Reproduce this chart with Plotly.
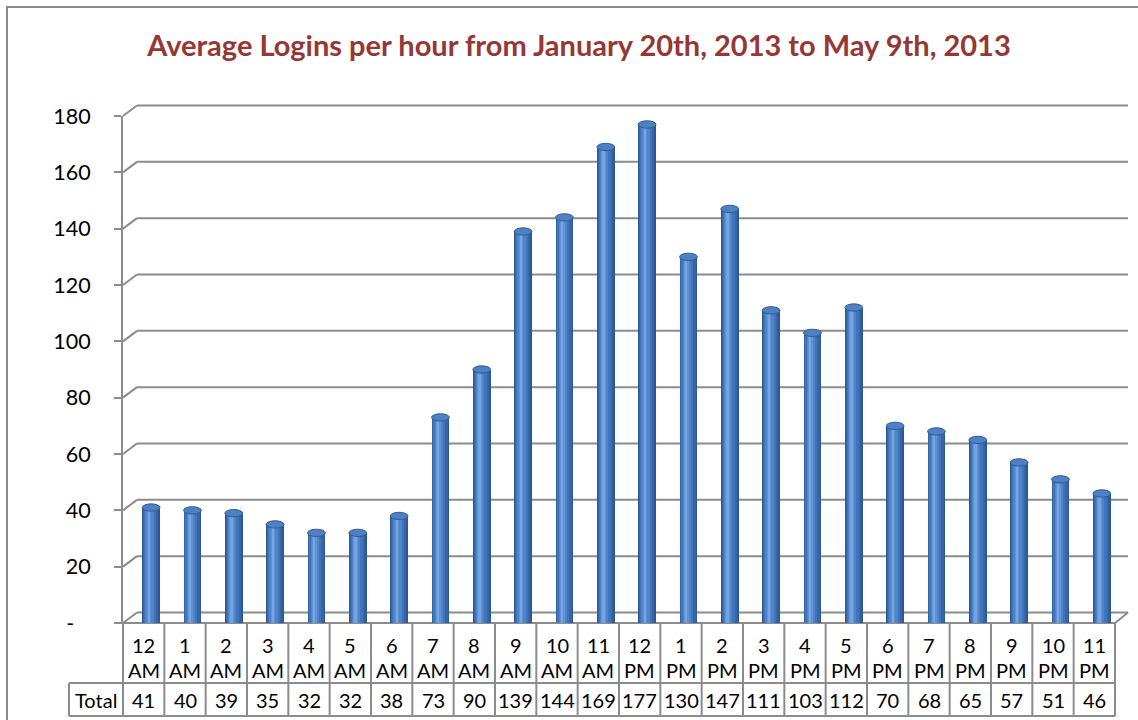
import plotly.graph_objects as go

# ---------------- data ----------------
hours = ["12", "1", "2", "3", "4", "5", "6", "7", "8", "9", "10", "11",
         "12", "1", "2", "3", "4", "5", "6", "7", "8", "9", "10", "11"]
periods = ["AM"] * 12 + ["PM"] * 12
logins = [41, 40, 39, 35, 32, 32, 38, 73, 90, 139, 144, 169,
          177, 130, 147, 111, 103, 112, 70, 68, 65, 57, 51, 46]
y_ticks = [0, 20, 40, 60, 80, 100, 120, 140, 160, 180]
row_label = "Total"
title_text = "Average Logins per hour from January 20th, 2013 to May 9th, 2013"

# ---------------- geometry (pixels) ----------------
W, H = 1138, 720
L, R, T, B = 123, 1115, 116, 623      # front plot area
DX, DY = 14, 10.5                      # 3D depth offset
ROW1_B, ROW2_B, TOTAL_L = 683, 716, 69
GRID = "#8c8c8c"
FONT = "Lato, Calibri, 'Open Sans', sans-serif"

n = len(logins)
ymax = y_ticks[-1]


def px(xp):
    return (xp - L) / (R - L)


def py(yp):
    return (B - yp) / (B - T)


def yv(v):  # value -> pixel y on front plane
    return B - v / ymax * (B - T)


fig = go.Figure()

# cylinder shading via overlaid bars
xs = list(range(n))
shift = 0.18
layers = [(0.43, 0.0, "#2c5894"), (0.37, -0.01, "#3766a6"),
          (0.29, -0.025, "#4275b8"), (0.2, -0.04, "#4f84c8"),
          (0.11, -0.05, "#5f93d6"), (0.05, -0.055, "#74a5e2")]
for w, off, col in layers:
    fig.add_trace(go.Bar(
        x=xs, y=logins, width=w, offset=shift + off - w / 2,
        marker=dict(color=col, line=dict(width=0)),
        hoverinfo="skip", showlegend=False))

shapes = []
annotations = []

# back-wall gridlines with 3D diagonal connectors
for v in y_ticks:
    yf = yv(v)
    yb = yf - DY
    shapes.append(dict(type="line", xref="paper", yref="paper",
                       x0=px(L), y0=py(yf), x1=px(L + DX), y1=py(yb),
                       line=dict(color=GRID, width=2), layer="below"))
    shapes.append(dict(type="line", xref="paper", yref="paper",
                       x0=px(L + DX), y0=py(yb), x1=px(R + DX - 1), y1=py(yb),
                       line=dict(color=GRID, width=2), layer="below"))
# floor front edge and right diagonal
shapes.append(dict(type="line", xref="paper", yref="paper",
                   x0=px(L - 7), y0=py(B), x1=px(R), y1=py(B),
                   line=dict(color=GRID, width=2), layer="below"))
shapes.append(dict(type="line", xref="paper", yref="paper",
                   x0=px(R), y0=py(B), x1=px(R + DX - 1), y1=py(B - DY),
                   line=dict(color=GRID, width=2), layer="below"))

# cylinder top ellipses
for i, v in enumerate(logins):
    c = i + shift
    shapes.append(dict(type="circle", xref="x", yref="y",
                       x0=c - 0.215, x1=c + 0.215, y0=v - 1.3, y1=v + 1.3,
                       fillcolor="#4e80c2", line=dict(color="#2f5c98", width=1),
                       layer="above"))

# data table
colw = (R - L) / n
for k in range(n + 1):
    xk = L + k * colw
    shapes.append(dict(type="line", xref="paper", yref="paper",
                       x0=px(xk), y0=py(B), x1=px(xk), y1=py(ROW2_B),
                       line=dict(color=GRID, width=2)))
for yy in (ROW1_B, ROW2_B):
    shapes.append(dict(type="line", xref="paper", yref="paper",
                       x0=px(TOTAL_L), y0=py(yy), x1=px(R), y1=py(yy),
                       line=dict(color=GRID, width=2)))
shapes.append(dict(type="line", xref="paper", yref="paper",
                   x0=px(TOTAL_L), y0=py(ROW1_B), x1=px(TOTAL_L), y1=py(ROW2_B),
                   line=dict(color=GRID, width=2)))

TFONT = dict(family=FONT, size=20, color="#000")
for i in range(n):
    annotations.append(dict(x=i, xref="x", y=py(645), yref="paper",
                            text=hours[i], showarrow=False,
                            font=TFONT, xanchor="center", yanchor="middle"))
    annotations.append(dict(x=i, xref="x", y=py(670), yref="paper",
                            text=periods[i], showarrow=False,
                            font=TFONT, xanchor="center", yanchor="middle"))
    annotations.append(dict(x=i, xref="x", y=py((ROW1_B + ROW2_B) / 2), yref="paper",
                            text=str(logins[i]), showarrow=False,
                            font=TFONT, xanchor="center", yanchor="middle"))
annotations.append(dict(x=px((TOTAL_L + L) / 2), xref="paper",
                        y=py((ROW1_B + ROW2_B) / 2), yref="paper",
                        text=row_label, showarrow=False,
                        font=TFONT, xanchor="center", yanchor="middle"))

# outer chart border (left/top edges visible)
shapes.append(dict(type="rect", xref="paper", yref="paper",
                   x0=px(7), y0=py(B + 200), x1=px(W + 20), y1=py(7),
                   line=dict(color="#8a8a8a", width=2), layer="below"))

tick_text = ["-\u00a0\u00a0\u00a0"] + [str(v) for v in y_ticks[1:]]

fig.update_layout(
    width=W, height=H,
    margin=dict(l=L, r=W - R, t=T, b=H - B, pad=0),
    paper_bgcolor="white", plot_bgcolor="rgba(0,0,0,0)",
    barmode="overlay", bargap=0,
    title=dict(text=f"<b>{title_text}</b>", x=579 / W, xanchor="center",
               y=1 - 46 / H, yanchor="middle", yref="container",
               font=dict(family=FONT, size=29, color="#953735")),
    xaxis=dict(range=[-0.5, n - 0.5], showgrid=False, zeroline=False,
               showticklabels=False, ticks="", showline=False, fixedrange=True),
    yaxis=dict(range=[0, ymax], tickvals=y_ticks, ticktext=tick_text,
               showgrid=False, zeroline=False, showline=True, linecolor=GRID,
               linewidth=2, ticks="outside", ticklen=7, tickwidth=2,
               tickcolor=GRID, ticklabelstandoff=19,
               tickfont=dict(family=FONT, size=21.5, color="#000")),
    shapes=shapes, annotations=annotations,
)

fig.write_html("out.html", config={"displayModeBar": False},
               post_script="document.body.style.margin='0px';"
                           "document.body.style.padding='0px';")
